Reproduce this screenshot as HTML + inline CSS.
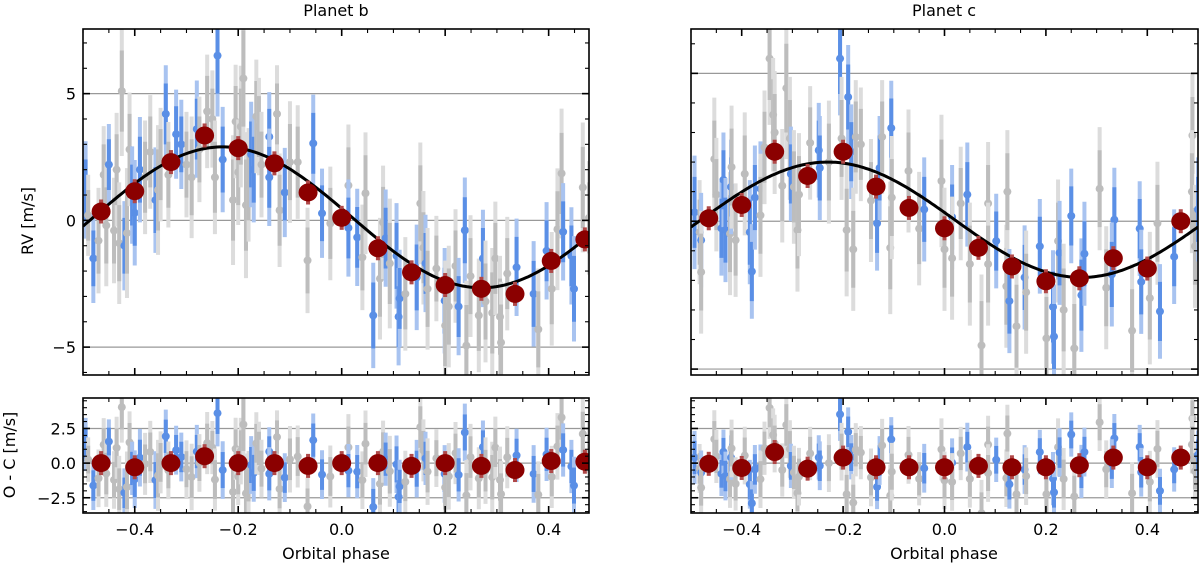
<!DOCTYPE html>
<html><head><meta charset="utf-8"><style>
html,body{margin:0;padding:0;background:#fff;}
svg{display:block;font-family:"DejaVu Sans","Liberation Sans",sans-serif;}
</style></head><body>
<svg id="fig" width="1200" height="567" viewBox="0 0 1200 567" xmlns="http://www.w3.org/2000/svg"></svg>
<script>
// ---------- data: planet b ----------
const phaseB=[-0.495,-0.49,-0.48,-0.47,-0.46,-0.455,-0.45,-0.44,-0.435,-0.43,-0.425,-0.42,-0.415,-0.41,-0.405,-0.40,-0.39,-0.38,-0.37,-0.36,-0.355,-0.35,-0.34,-0.335,-0.32,-0.31,-0.30,-0.29,-0.28,-0.275,-0.26,-0.25,-0.245,-0.24,-0.23,-0.21,-0.205,-0.20,-0.195,-0.19,-0.185,-0.18,-0.175,-0.17,-0.165,-0.16,-0.155,-0.14,-0.14,-0.125,-0.12,-0.11,-0.10,-0.085,-0.066,-0.055,-0.038,-0.022,0.013,0.013,0.03,0.04,0.046,0.061,0.074,0.08,0.085,0.093,0.106,0.11,0.112,0.123,0.145,0.152,0.158,0.162,0.166,0.183,0.199,0.2,0.207,0.22,0.226,0.238,0.241,0.249,0.265,0.273,0.278,0.291,0.297,0.306,0.308,0.32,0.338,0.371,0.38,0.396,0.406,0.417,0.425,0.428,0.444,0.449,0.466,0.478];
const rvB=[1.2,0.2,-1.5,-0.8,1.8,-0.2,2.2,-0.4,2.0,-0.9,5.1,-1.0,-0.5,2.8,1.0,0.3,2.0,1.7,2.7,0.8,1.2,2.2,4.2,1.8,3.4,3.0,2.2,1.7,3.6,2.8,4.3,4.0,1.7,6.5,2.4,0.8,3.9,1.9,3.7,5.6,0.6,1.4,2.6,2.0,4.1,3.7,2.2,3.3,1.7,4.2,0.4,1.1,2.3,2.3,-1.58,3.04,0.28,-0.12,1.38,-0.3,-0.67,-1.46,1.07,-3.75,-2.3,-0.08,-0.7,-1.7,-1.4,-3.8,-3.08,-2.9,-2.25,0.67,-1.08,-1.7,-2.7,-1.9,-3.17,-4.15,-3.4,-1.8,-3.4,-0.39,-4.94,-2.2,-3.75,-1.5,-3.2,-3.65,-1.5,-3.8,-4.82,-2.1,-1.85,-2.9,-4.3,-1.2,-2.7,-0.35,1.85,-0.45,-1.4,-2.7,1.3,0.1];
const errB=[1.2,1.0,1.1,1.3,1.2,1.5,1.0,1.3,1.4,1.5,1.6,1.1,1.6,1.4,1.2,1.3,1.3,1.4,1.4,1.3,1.6,1.4,1.2,1.3,1.1,1.1,1.3,1.5,1.2,1.3,1.4,1.2,1.4,1.5,1.3,1.6,1.4,1.3,1.5,1.9,1.8,1.4,1.3,1.3,1.4,1.2,1.3,1.1,1.2,1.2,1.4,1.1,1.5,1.4,1.3,1.2,1.1,1.4,1.5,1.2,1.2,1.3,1.5,1.3,1.5,1.4,1.2,1.6,1.3,1.2,1.2,1.4,1.3,1.5,1.4,1.2,1.5,1.3,1.3,1.6,1.5,1.4,1.2,1.3,1.6,1.5,1.4,1.2,1.5,1.6,1.4,1.5,1.5,1.4,1.2,1.3,1.5,1.2,1.4,1.5,1.6,1.2,1.2,1.3,1.6,1.4];
const instB=[1,0,1,0,0,0,1,0,0,0,0,1,0,0,1,1,1,0,0,1,0,0,1,0,1,1,0,0,1,0,0,0,0,1,1,0,0,0,0,0,0,0,1,1,0,0,0,1,1,0,0,1,0,0,0,1,1,0,0,1,1,0,0,1,0,0,1,0,1,1,1,0,1,0,0,1,0,0,1,0,0,0,1,1,0,0,0,1,0,0,0,0,0,0,1,1,0,1,0,0,0,1,1,1,0,0];
const binPhaseB=[-0.465,-0.40,-0.33,-0.265,-0.20,-0.13,-0.065,0.0,0.07,0.135,0.2,0.27,0.335,0.405,0.47];
const binRvB=[0.35,1.15,2.3,3.35,2.85,2.25,1.1,0.1,-1.1,-2.05,-2.55,-2.7,-2.9,-1.6,-0.75];
const binOcB=[0.0,-0.3,0.0,0.5,0.0,0.0,-0.2,0.0,0.0,-0.2,0.0,-0.2,-0.5,0.15,0.1];
const modelB={amp:2.78,off:0.12,peak:-0.23};
// ---------- data: planet c ----------
const phaseC=[-0.493,-0.483,-0.48,-0.48,-0.454,-0.45,-0.44,-0.436,-0.432,-0.423,-0.421,-0.42,-0.412,-0.394,-0.384,-0.38,-0.374,-0.363,-0.363,-0.355,-0.345,-0.338,-0.335,-0.32,-0.312,-0.305,-0.303,-0.297,-0.29,-0.287,-0.265,-0.248,-0.246,-0.228,-0.206,-0.203,-0.193,-0.19,-0.184,-0.18,-0.175,-0.165,-0.145,-0.133,-0.128,-0.123,-0.107,-0.105,-0.104,-0.071,-0.05,-0.04,-0.006,0.0,0.015,0.015,0.032,0.045,0.05,0.073,0.086,0.086,0.102,0.122,0.124,0.128,0.142,0.158,0.161,0.188,0.201,0.214,0.216,0.224,0.227,0.235,0.25,0.256,0.27,0.276,0.306,0.319,0.335,0.33,0.37,0.385,0.388,0.405,0.42,0.425,0.453,0.489,0.488,0.494,0.5];
const rvC=[0.3,-0.37,-0.64,-1.72,2.1,0.9,-0.24,1.4,-0.3,-0.42,1.16,1.83,-0.64,1.6,-0.37,-1.7,0.8,1.1,0.2,2.5,5.5,3.6,3.0,1.2,4.5,2.8,1.6,1.16,-0.3,0.9,2.65,2.4,1.8,2.0,5.5,2.8,-0.3,4.2,2.35,-0.95,2.85,2.6,0.7,-0.07,1.8,2.85,-0.9,3.15,0.8,1.7,-0.25,0.4,1.36,-0.95,0.14,-1.25,0.6,0.9,-1.45,-4.2,0.6,-1.45,-0.67,-2.2,1.0,-2.7,-3.55,-1.9,-2.4,-0.85,-3.96,-2.9,-3.9,-0.67,-1.07,-3.0,0.18,-4.3,-2.5,-1.1,1.1,-2.25,0.05,-1.8,-3.7,-0.25,-2.05,-2.6,-0.07,-3.05,-1.2,2.9,1.0,-0.85,0.4];
const errC=[1.2,1.1,1.0,1.3,1.3,1.2,1.0,1.0,1.1,1.3,1.0,1.3,1.2,1.3,1.1,1.0,1.1,1.0,1.3,1.2,1.4,1.2,1.3,1.2,1.5,1.3,1.0,1.2,1.3,1.3,1.2,1.0,1.1,1.3,1.2,1.3,1.4,1.1,1.0,1.3,1.2,1.2,1.3,1.0,1.1,1.2,1.4,1.0,1.3,1.3,1.2,1.1,1.4,1.3,1.1,1.3,1.2,1.1,1.3,1.5,1.3,1.3,1.0,1.3,1.3,1.1,1.4,1.1,1.3,1.0,1.4,1.2,1.1,1.3,1.1,1.4,1.0,1.5,1.2,1.1,1.3,1.3,1.1,1.1,1.4,1.0,1.1,1.4,1.3,1.0,1.0,1.3,1.3,1.3,1.1];
const instC=[1,0,1,0,0,0,1,1,1,0,1,0,0,0,1,1,1,1,0,0,0,0,0,0,0,0,1,0,0,0,0,1,1,0,1,0,0,1,1,0,0,0,0,1,1,0,0,1,0,0,0,1,0,0,1,0,0,1,0,0,0,0,1,0,0,1,0,1,0,1,0,1,1,0,1,0,1,0,1,1,0,0,1,1,0,1,1,0,0,1,1,0,0,0,1];
const binPhaseC=[-0.465,-0.40,-0.335,-0.27,-0.20,-0.135,-0.07,0.0,0.067,0.133,0.2,0.266,0.333,0.4,0.466];
const binRvC=[0.1,0.55,2.35,1.53,2.35,1.17,0.45,-0.24,-0.9,-1.53,-2.03,-1.93,-1.25,-1.6,0.0];
const binOcC=[-0.05,-0.35,0.8,-0.4,0.4,-0.3,-0.3,-0.3,-0.2,-0.3,-0.3,-0.15,0.4,-0.3,0.4];
const modelC={amp:1.95,off:0.05,peak:-0.23};

const NS='http://www.w3.org/2000/svg';
const fig=document.getElementById('fig');
function mk(tag,attrs,parent){const e=document.createElementNS(NS,tag);for(const k in attrs)e.setAttribute(k,attrs[k]);(parent||fig).appendChild(e);return e;}
function model(m,p){return m.off+m.amp*Math.cos(2*Math.PI*(p-m.peak));}

function axes(o){
  const sx=v=>o.x0+(v-o.xmin)/(o.xmax-o.xmin)*(o.x1-o.x0);
  const sy=v=>o.y1-(v-o.ymin)/(o.ymax-o.ymin)*(o.y1-o.y0);
  return {sx,sy};
}

function panel(cfg){
  const g=mk('g',{});
  
  
  const {sx,sy}=axes(cfg);
  const cid='clip-'+cfg.name;
  const cp=mk('clipPath',{id:cid},g);mk('rect',{x:cfg.x0,y:cfg.y0,width:cfg.x1-cfg.x0,height:cfg.y1-cfg.y0},cp);
  cfg.grid.forEach(v=>{const l=mk('line',{x1:cfg.x0,x2:cfg.x1,y1:sy(v),y2:sy(v),stroke:'#999',"stroke-width":1.2},g);
    });
  const dg=mk('g',{'clip-path':'url(#'+cid+')'},g);
  cfg.ph.forEach((p,i)=>{
    const v=cfg.vals[i],e=cfg.err[i],b=cfg.inst[i];
    const cx=sx(p),cy=sy(v);
    const pt=mk('g',{},dg);
    
    
    mk('line',{x1:cx,x2:cx,y1:sy(v+e*1.6),y2:sy(v-e*1.6),stroke:b?'#a8c3f0':'#dcdcdc','stroke-width':4},pt);
    mk('line',{x1:cx,x2:cx,y1:sy(v+e),y2:sy(v-e),stroke:b?'#5a8fe6':'#bdbdbd','stroke-width':4},pt);
    mk('circle',{cx:cx,cy:cy,r:4,fill:b?'#5a8fe6':'#bdbdbd'},pt);
  });
  if(cfg.model){
    let d='';for(let k=0;k<=200;k++){const p=cfg.xmin+(cfg.xmax-cfg.xmin)*k/200;d+=(k?'L':'M')+sx(p).toFixed(1)+','+sy(model(cfg.model,p)).toFixed(1);}
    const c=mk('path',{d:d,fill:'none',stroke:'#000','stroke-width':3},dg);
    
  }
  cfg.bph.forEach((p,i)=>{
    const cx=sx(p),cy=sy(cfg.bval[i]);
    const bp=mk('g',{},dg);
    
    
    mk('line',{x1:cx,x2:cx,y1:cy-12,y2:cy+12,stroke:'#b04848','stroke-width':4},bp);
    mk('ellipse',{cx:cx,cy:cy,rx:9.5,ry:9,fill:'#8b0000'},bp);
  });
  const fr=mk('rect',{x:cfg.x0,y:cfg.y0,width:cfg.x1-cfg.x0,height:cfg.y1-cfg.y0,fill:'none',stroke:'#000','stroke-width':1.6},g);
  
  for(let t=-0.5;t<=cfg.xmax+1e-6;t+=0.05){
    const v=Math.round(t*100)/100;const x=sx(v);if(x<cfg.x0-0.5||x>cfg.x1+0.5)continue;
    const major=Math.abs(Math.round(v*10)-v*10)<1e-6&&Math.round(v*10)%2===0;
    const L=major?7:4;
    mk('line',{x1:x,x2:x,y1:cfg.y1,y2:cfg.y1-L,stroke:'#000','stroke-width':major?1.6:1.1},g);
    mk('line',{x1:x,x2:x,y1:cfg.y0,y2:cfg.y0+L,stroke:'#000','stroke-width':major?1.6:1.1},g);
    if(major&&cfg.xlabels){const tx=mk('text',{x:x,y:cfg.y1+22,'text-anchor':'middle','font-size':16,fill:'#000'},g);
      tx.textContent=(v<0?'\u2212':'')+Math.abs(v).toFixed(1);}
  }
  for(let t=Math.ceil(cfg.ymin/cfg.ymin_step)*cfg.ymin_step;t<=cfg.ymax;t+=cfg.ymin_step){
    const v=Math.round(t*1000)/1000;const y=sy(v);
    const major=cfg.ymajor.some(m=>Math.abs(m-v)<1e-6);const L=major?7:4;
    mk('line',{x1:cfg.x0,x2:cfg.x0+L,y1:y,y2:y,stroke:'#000','stroke-width':major?1.6:1.1},g);
    mk('line',{x1:cfg.x1,x2:cfg.x1-L,y1:y,y2:y,stroke:'#000','stroke-width':major?1.6:1.1},g);
  }
  if(cfg.ylabels)cfg.ymajor.forEach((v,i)=>{const tx=mk('text',{x:cfg.x0-7,y:sy(v)+6,'text-anchor':'end','font-size':16,fill:'#000'},g);
    tx.textContent=cfg.ylabels[i];});
}

const ocB=rvB.map((v,i)=>v-model(modelB,phaseB[i]));
const ocC=rvC.map((v,i)=>v-model(modelC,phaseC[i]));

panel({name:'planet-b-rv-panel',x0:83,x1:589,y0:29,y1:375,xmin:-0.5,xmax:0.478,ymin:-6.1,ymax:7.55,grid:[5,0,-5],ymajor:[5,0,-5],ymin_step:1,ylabels:['5','0','\u22125'],
  ph:phaseB,vals:rvB,err:errB,inst:instB,bph:binPhaseB,bval:binRvB,model:modelB});
panel({name:'planet-b-residual-panel',x0:83,x1:589,y0:398,y1:513,xmin:-0.5,xmax:0.478,ymin:-3.6,ymax:4.7,grid:[2.5,0,-2.5],ymajor:[2.5,0,-2.5],ymin_step:0.5,ylabels:['2.5','0.0','\u22122.5'],xlabels:true,
  ph:phaseB,vals:ocB,err:errB,inst:instB,bph:binPhaseB,bval:binOcB});
panel({name:'planet-c-rv-panel',x0:691,x1:1198,y0:29,y1:375,xmin:-0.5,xmax:0.5,ymin:-5.2,ymax:6.5,grid:[5,0,-5],ymajor:[5,0,-5],ymin_step:1,
  ph:phaseC,vals:rvC,err:errC,inst:instC,bph:binPhaseC,bval:binRvC,model:modelC});
panel({name:'planet-c-residual-panel',x0:691,x1:1198,y0:398,y1:513,xmin:-0.5,xmax:0.5,ymin:-3.6,ymax:4.7,grid:[2.5,0,-2.5],ymajor:[2.5,0,-2.5],ymin_step:0.5,xlabels:true,
  ph:phaseC,vals:ocC,err:errC,inst:instC,bph:binPhaseC,bval:binOcC});

function label(txt,x,y,name,rot){const t=mk('text',{x:x,y:y,'text-anchor':'middle','font-size':16,fill:'#000'});
  if(rot)t.setAttribute('transform','rotate(-90 '+x+' '+y+')');t.textContent=txt;
  }
label('Planet b',336,16,'planet-b-title');
label('Planet c',944,16,'planet-c-title');
label('Orbital phase',336,559,'x-axis-title-left');
label('Orbital phase',944,559,'x-axis-title-right');
label('RV [m/s]',33,221,'y-axis-title-rv',true);
label('O - C [m/s]',15,455,'y-axis-title-residual',true);
</script>
</body></html>
